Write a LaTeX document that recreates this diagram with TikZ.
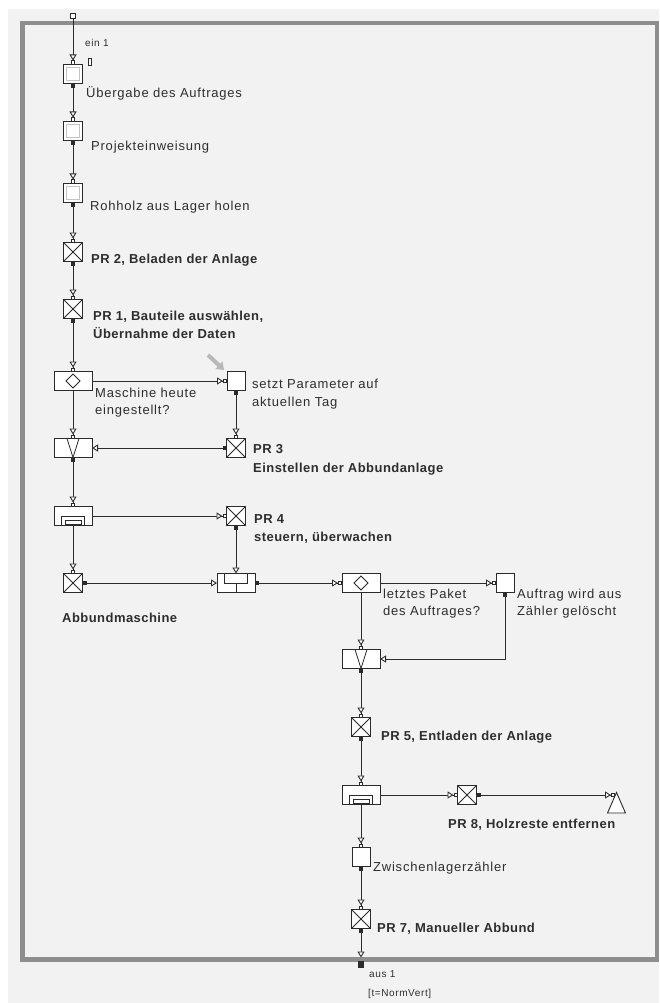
\documentclass[tikz,border=0pt]{standalone}
\usepackage{fontspec}
\setmainfont{Liberation Sans}
\newfontfamily\lblfont[LetterSpace=6]{Liberation Sans}
\newfontfamily\lblbold[LetterSpace=3.5]{Liberation Sans}
\usetikzlibrary{arrows.meta}

\definecolor{panel}{HTML}{F2F2F2}
\definecolor{framegray}{HTML}{8E8E8E}
\definecolor{ink}{HTML}{2B2B2B}
\definecolor{txt}{HTML}{2E2E2E}
\definecolor{bevel}{HTML}{C4C4C4}
\definecolor{pointer}{HTML}{B8B8B8}

\newcommand\pbbx{path picture bounding box}

\tikzset{
  InTS/.tip={Triangle[open,fill=white,length=6pt,width=7pt]Square[open,fill=white,length=4pt,width=4pt]},
  InT/.tip={Triangle[open,fill=white,length=6pt,width=7pt]},
  OutSq/.tip={Square[length=4pt,width=4pt]},
  conn/.style={draw=ink,line width=0.9pt},
  box/.style={draw=ink,fill=white,line width=1pt,minimum width=19pt,minimum height=19pt,inner sep=0pt,outer sep=0pt},
  plainb/.style={box,minimum width=18pt},
  actb/.style={box,path picture={\draw[bevel,line width=0.8pt] ([shift={(3pt,-3pt)}]\pbbx.north west) rectangle ([shift={(-3pt,3pt)}]\pbbx.south east);}},
  crossb/.style={box,path picture={\draw[ink,line width=0.8pt] (\pbbx.north west) -- (\pbbx.south east) (\pbbx.north east) -- (\pbbx.south west);}},
  decb/.style={box,minimum width=38pt,path picture={\draw[ink,line width=0.8pt] ([yshift=7pt]\pbbx.center) -- ([xshift=7pt]\pbbx.center) -- ([yshift=-7pt]\pbbx.center) -- ([xshift=-7pt]\pbbx.center) -- cycle;}},
  mergeb/.style={box,minimum width=38pt,path picture={\draw[ink,line width=0.8pt] ([xshift=-6pt]\pbbx.north) -- (\pbbx.south) -- ([xshift=6pt]\pbbx.north);}},
  splitb/.style={box,minimum width=38pt,path picture={\draw[ink,line width=0.8pt] ([xshift=-11.5pt]\pbbx.south) |- ([xshift=11.5pt]\pbbx.center) -- ([xshift=11.5pt]\pbbx.south) ([xshift=-8pt,yshift=1.5pt]\pbbx.south) rectangle ([xshift=8pt,yshift=5.5pt]\pbbx.south);}},
  joinb/.style={box,minimum width=38pt,path picture={\draw[ink,line width=0.8pt] ([xshift=-11.5pt]\pbbx.north) |- ([xshift=11.5pt]\pbbx.center) -- ([xshift=11.5pt]\pbbx.north) (\pbbx.center) -- (\pbbx.south);}},
  lbl/.style={anchor=base west,inner sep=0pt,text=txt,font=\fontsize{13}{15}\lblfont},
  lblb/.style={anchor=base west,inner sep=0pt,text=txt,font=\fontsize{13}{15}\lblbold\bfseries},
  lbls/.style={anchor=base west,inner sep=0pt,text=txt,font=\fontsize{10}{12}\lblfont},
}

\begin{document}
\begin{tikzpicture}[x=1pt,y=-1pt]
\useasboundingbox (0,0) rectangle (659,1003);
% panel and frame
\fill[white] (0,0) rectangle (659,1003);
\fill[panel] (8,9) rectangle (659,1003);
\draw[framegray,line width=4.5pt] (22.5,23) rectangle (657,959.5);

% pointer glyph at the parameter box
\draw[pointer,line width=4pt,-{Triangle[length=7pt,width=10pt]}] (208,355) -- (224,370);

% left column
\node[box,minimum width=5pt,minimum height=5pt] (entry) at (73,16) {};
\node[actb] (b1) at (73,74) {};
\node[actb] (b2) at (73,131) {};
\node[actb] (b3) at (73,193) {};
\node[crossb] (pr2) at (73,252) {};
\node[crossb] (pr1) at (73,309) {};
\node[decb] (d1) at (73,381) {};
\node[mergeb] (m1) at (73,448) {};
\node[splitb] (s1) at (73,516) {};
\node[crossb] (abb) at (73,583) {};
% middle column
\node[plainb] (sp) at (236,381) {};
\node[crossb] (pr3) at (236,448) {};
\node[crossb] (pr4) at (236,516) {};
\node[joinb] (j1) at (236,583) {};
% right column
\node[decb] (d2) at (361,583) {};
\node[plainb] (au) at (505,583) {};
\node[mergeb] (m2) at (361,659) {};
\node[crossb] (pr5) at (361,727) {};
\node[splitb] (s2) at (361,795) {};
\node[crossb] (pr8) at (467,795) {};
\node[plainb] (zw) at (361,857) {};
\node[crossb] (pr7) at (361,919) {};
\coordinate (term) at (615,795);
\coordinate (outpt) at (361,957.5);
\node[draw=ink,fill=ink,minimum width=5pt,minimum height=6pt,inner sep=0pt] (exit) at (361,964.5) {};
\node[draw=ink,fill=white,line width=0.8pt,minimum width=3pt,minimum height=7pt,inner sep=0pt] (marker) at (89.5,62) {};

% terminal triangle
\draw[ink,fill=white,line width=0.9pt] (616.5,792.5) -- (625.5,813) -- (607.5,813) -- cycle;

% connectors
\draw[conn,-{InTS}] (entry.south) -- (b1.north);
\draw[conn,{OutSq}-{InTS}] (b1.south) -- (b2.north);
\draw[conn,{OutSq}-{InTS}] (b2.south) -- (b3.north);
\draw[conn,{OutSq}-{InTS}] (b3.south) -- (pr2.north);
\draw[conn,{OutSq}-{InTS}] (pr2.south) -- (pr1.north);
\draw[conn,{OutSq}-{InTS}] (pr1.south) -- (d1.north);
\draw[conn,-{InTS}] (d1.east) -- (sp.west);
\draw[conn,{OutSq}-{InTS}] (sp.south) -- (pr3.north);
\draw[conn,{OutSq}-{InT}] (pr3.west) -- (m1.east);
\draw[conn,-{InTS}] (d1.south) -- (m1.north);
\draw[conn,{OutSq}-{InTS}] (m1.south) -- (s1.north);
\draw[conn,-{InTS}] (s1.east) -- (pr4.west);
\draw[conn,-{InTS}] (s1.south) -- (abb.north);
\draw[conn,{OutSq}-{InT}] (pr4.south) -- (j1.north);
\draw[conn,{OutSq}-{InT}] (abb.east) -- (j1.west);
\draw[conn,{OutSq}-{InTS}] (j1.east) -- (d2.west);
\draw[conn,-{InTS}] (d2.east) -- (au.west);
\draw[conn,-{InTS}] (d2.south) -- (m2.north);
\draw[conn,{OutSq}-{InT}] (au.south) |- (m2.east);
\draw[conn,{OutSq}-{InTS}] (m2.south) -- (pr5.north);
\draw[conn,{OutSq}-{InTS}] (pr5.south) -- (s2.north);
\draw[conn,-{InTS}] (s2.east) -- (pr8.west);
\draw[conn,{OutSq}-{InTS}] (pr8.east) -- (term);
\draw[conn,-{InTS}] (s2.south) -- (zw.north);
\draw[conn,{OutSq}-{InTS}] (zw.south) -- (pr7.north);
\draw[conn,{OutSq}-{InT}] (pr7.south) -- (outpt);

% labels
\node[lbls] (t-ein) at (85,47) {ein 1};
\node[lbl] (t-b1) at (86,98) {Übergabe des Auftrages};
\node[lbl] (t-b2) at (91,151) {Projekteinweisung};
\node[lbl] (t-b3) at (90,210) {Rohholz aus Lager holen};
\node[lblb] (t-pr2) at (91,263) {PR 2, Beladen der Anlage};
\node[lblb] (t-pr1a) at (93,320) {PR 1, Bauteile auswählen,};
\node[lblb] (t-pr1b) at (93,338) {Übernahme der Daten};
\node[lbl] (t-d1a) at (95,397) {Maschine heute};
\node[lbl] (t-d1b) at (95,414) {eingestellt?};
\node[lbl] (t-spa) at (252,388) {setzt Parameter auf};
\node[lbl] (t-spb) at (252,406) {aktuellen Tag};
\node[lblb] (t-pr3a) at (253,453) {PR 3};
\node[lblb] (t-pr3b) at (253,472) {Einstellen der Abbundanlage};
\node[lblb] (t-pr4a) at (254,523) {PR 4};
\node[lblb] (t-pr4b) at (254,541) {steuern, überwachen};
\node[lblb] (t-abb) at (62,622) {Abbundmaschine};
\node[lbl] (t-d2a) at (383,598) {letztes Paket};
\node[lbl] (t-d2b) at (383,615) {des Auftrages?};
\node[lbl] (t-aua) at (517,598) {Auftrag wird aus};
\node[lbl] (t-aub) at (517,615) {Zähler gelöscht};
\node[lblb] (t-pr5) at (381,740) {PR 5, Entladen der Anlage};
\node[lblb] (t-pr8) at (448,828) {PR 8, Holzreste entfernen};
\node[lbl] (t-zw) at (373,871) {Zwischenlagerzähler};
\node[lblb] (t-pr7) at (377,932) {PR 7, Manueller Abbund};
\node[lbls] (t-aus) at (369,977) {aus 1};
\node[lbls] (t-tv) at (368,996) {[t=NormVert]};
\end{tikzpicture}
\end{document}
